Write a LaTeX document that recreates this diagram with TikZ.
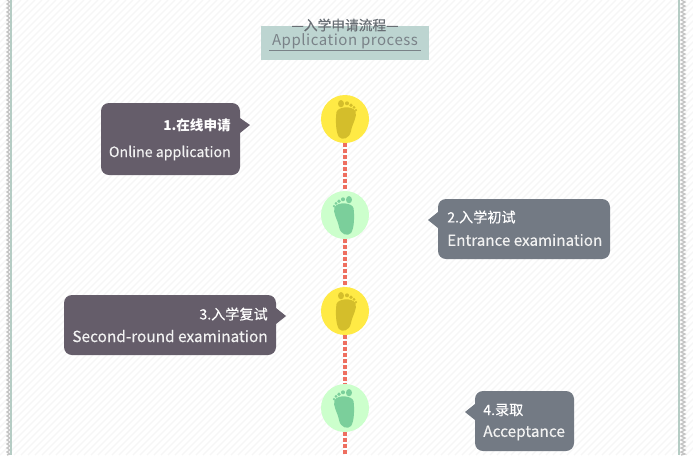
\documentclass[tikz,border=0pt]{standalone}
\usepackage{fontspec}
\setmainfont{Noto Sans CJK SC}
\newfontfamily\spacedfont[LetterSpace=3.5]{Noto Sans CJK SC}
\newfontfamily\semifont[FakeBold=0.6]{Noto Sans CJK SC}
\newfontfamily\lightbold[FakeBold=0.25]{Noto Sans CJK SC}
\definecolor{boxA}{HTML}{655D6A}
\definecolor{boxB}{HTML}{737A84}
\definecolor{sunfill}{HTML}{FFEA45}
\definecolor{sunfoot}{HTML}{D4BE2B}
\definecolor{mintfill}{HTML}{CCFFCC}
\definecolor{mintfoot}{HTML}{7BCF9B}
\definecolor{headfill}{HTML}{BDD5D1}
\definecolor{headtext}{HTML}{7A8288}
\definecolor{edgeline}{HTML}{B5CCC4}
\definecolor{zigzag}{HTML}{C4C4C4}
\definecolor{stripe}{HTML}{F6F6F6}
\definecolor{dots}{HTML}{EE6F60}
\tikzset{
  x=0.75pt,y=-0.75pt,
  pics/foot/.style={code={
    \fill[#1] (-8.5,-7) .. controls (-7,-12.5) and (7,-13.5) .. (10.5,-8)
      .. controls (12.5,-2) and (7.5,4) .. (6,12)
      .. controls (4.5,20) and (-3,21.5) .. (-6,18)
      .. controls (-9.5,13) and (-9.5,0) .. (-8.5,-7) -- cycle;
    \fill[#1] (-4,-15.3) circle[x radius=3,y radius=3.6];
    \fill[#1] (2,-15.7) circle[radius=2];
    \fill[#1] (6,-13.8) circle[radius=1.8];
    \fill[#1] (9,-11.6) circle[radius=1.5];
    \fill[#1] (11,-8.9) circle[radius=1.2];
  }},
  stepdot/.style={circle,minimum size=36pt,inner sep=0pt,draw=none},
  panel/.style={rounded corners=6pt,draw=none},
  toptext/.style={font=\fontsize{10.6pt}{12pt}\lightbold,text=white,inner sep=0pt},
  lowtext/.style={font=\fontsize{11.55pt}{13pt}\lightbold,text=white!95!black,inner sep=0pt},
  trail/.style={draw=dots,line width=2.3pt,dash pattern=on 2.7pt off 1.8pt},
}
\begin{document}
\begin{tikzpicture}
\useasboundingbox (0,0) rectangle (693,455);
\fill[white] (0,0) rectangle (693,455);
\begin{scope}
\clip (0,0) rectangle (693,455);
\foreach \k in {0,7,...,1148}
  \draw[stripe,line width=0.9pt] (\k,0) -- (\k-455,455);
\end{scope}
% side borders
\foreach \xa/\xb in {7/10,681/685}{
  \draw[zigzag,line width=1pt] (\xa,0)
    \foreach \n in {0,4,...,452}{ -- (\xa,\n) -- (\xb,\n+2) } -- (\xa,455);
}
\fill[edgeline] (10,0) rectangle (12,455);
\fill[edgeline] (678,0) rectangle (680,455);
% header
\fill[headfill] (261,26) rectangle (429,60);
\draw[headtext,line width=0.75pt] (269,50.5) -- (421,50.5);
% markers
\node[stepdot,fill=sunfill] (s1) at (345,119) {};
\node[stepdot,fill=mintfill] (s2) at (345,215) {};
\node[stepdot,fill=sunfill] (s3) at (345,311) {};
\node[stepdot,fill=mintfill] (s4) at (345,408) {};
\coordinate (tail) at (345,455);
\draw[trail] (s1) -- (s2);
\draw[trail] (s2) -- (s3);
\draw[trail] (s3) -- (s4);
\draw[trail] (s4) -- (tail);
\pic at (s1) {foot=sunfoot};
\pic[xscale=-1] at (s2) {foot=mintfoot};
\pic at (s3) {foot=sunfoot};
\pic[xscale=-1] at (s4) {foot=mintfoot};
% callouts
\fill[boxA] (240,118) -- (250,125) -- (240,133) -- cycle;
\fill[boxA,panel] (101,103) rectangle (240,175);
\fill[boxB] (438,212) -- (428,220) -- (438,228) -- cycle;
\fill[boxB,panel] (438,199) rectangle (610,259);
\fill[boxA] (276,308) -- (286,316) -- (276,324) -- cycle;
\fill[boxA,panel] (64,295) rectangle (276,355);
\fill[boxB] (475,404) -- (465,412) -- (475,420) -- cycle;
\fill[boxB,panel] (475,391) rectangle (574,451);
% texts
\node[inner sep=0pt,text=headtext!85!black,font=\fontsize{10.3pt}{12pt}\semifont] (zh) at (345,25) {—入学申请流程—};
\node[inner sep=0pt,text=headtext,font=\fontsize{11.25pt}{13pt}\spacedfont] (en) at (345,41) {Application process};
\node[toptext,anchor=east,font=\fontsize{10.2pt}{12pt}\selectfont\bfseries] (t1) at (231,125) {1.在线申请};
\node[lowtext,anchor=east,font=\fontsize{10.65pt}{13pt}\lightbold] (e1) at (231,153) {Online application};
\node[toptext,anchor=west] (t2) at (447,217) {2.入学初试};
\node[lowtext,anchor=west,font=\fontsize{11.4pt}{13pt}\lightbold] (e2) at (447,240) {Entrance examination};
\node[toptext,anchor=east] (t3) at (268,314) {3.入学复试};
\node[lowtext,anchor=east] (e3) at (268,336) {Second-round examination};
\node[toptext,anchor=west] (t4) at (483,410) {4.录取};
\node[lowtext,anchor=west] (e4) at (483,433) {Acceptance};
\end{tikzpicture}
\end{document}
